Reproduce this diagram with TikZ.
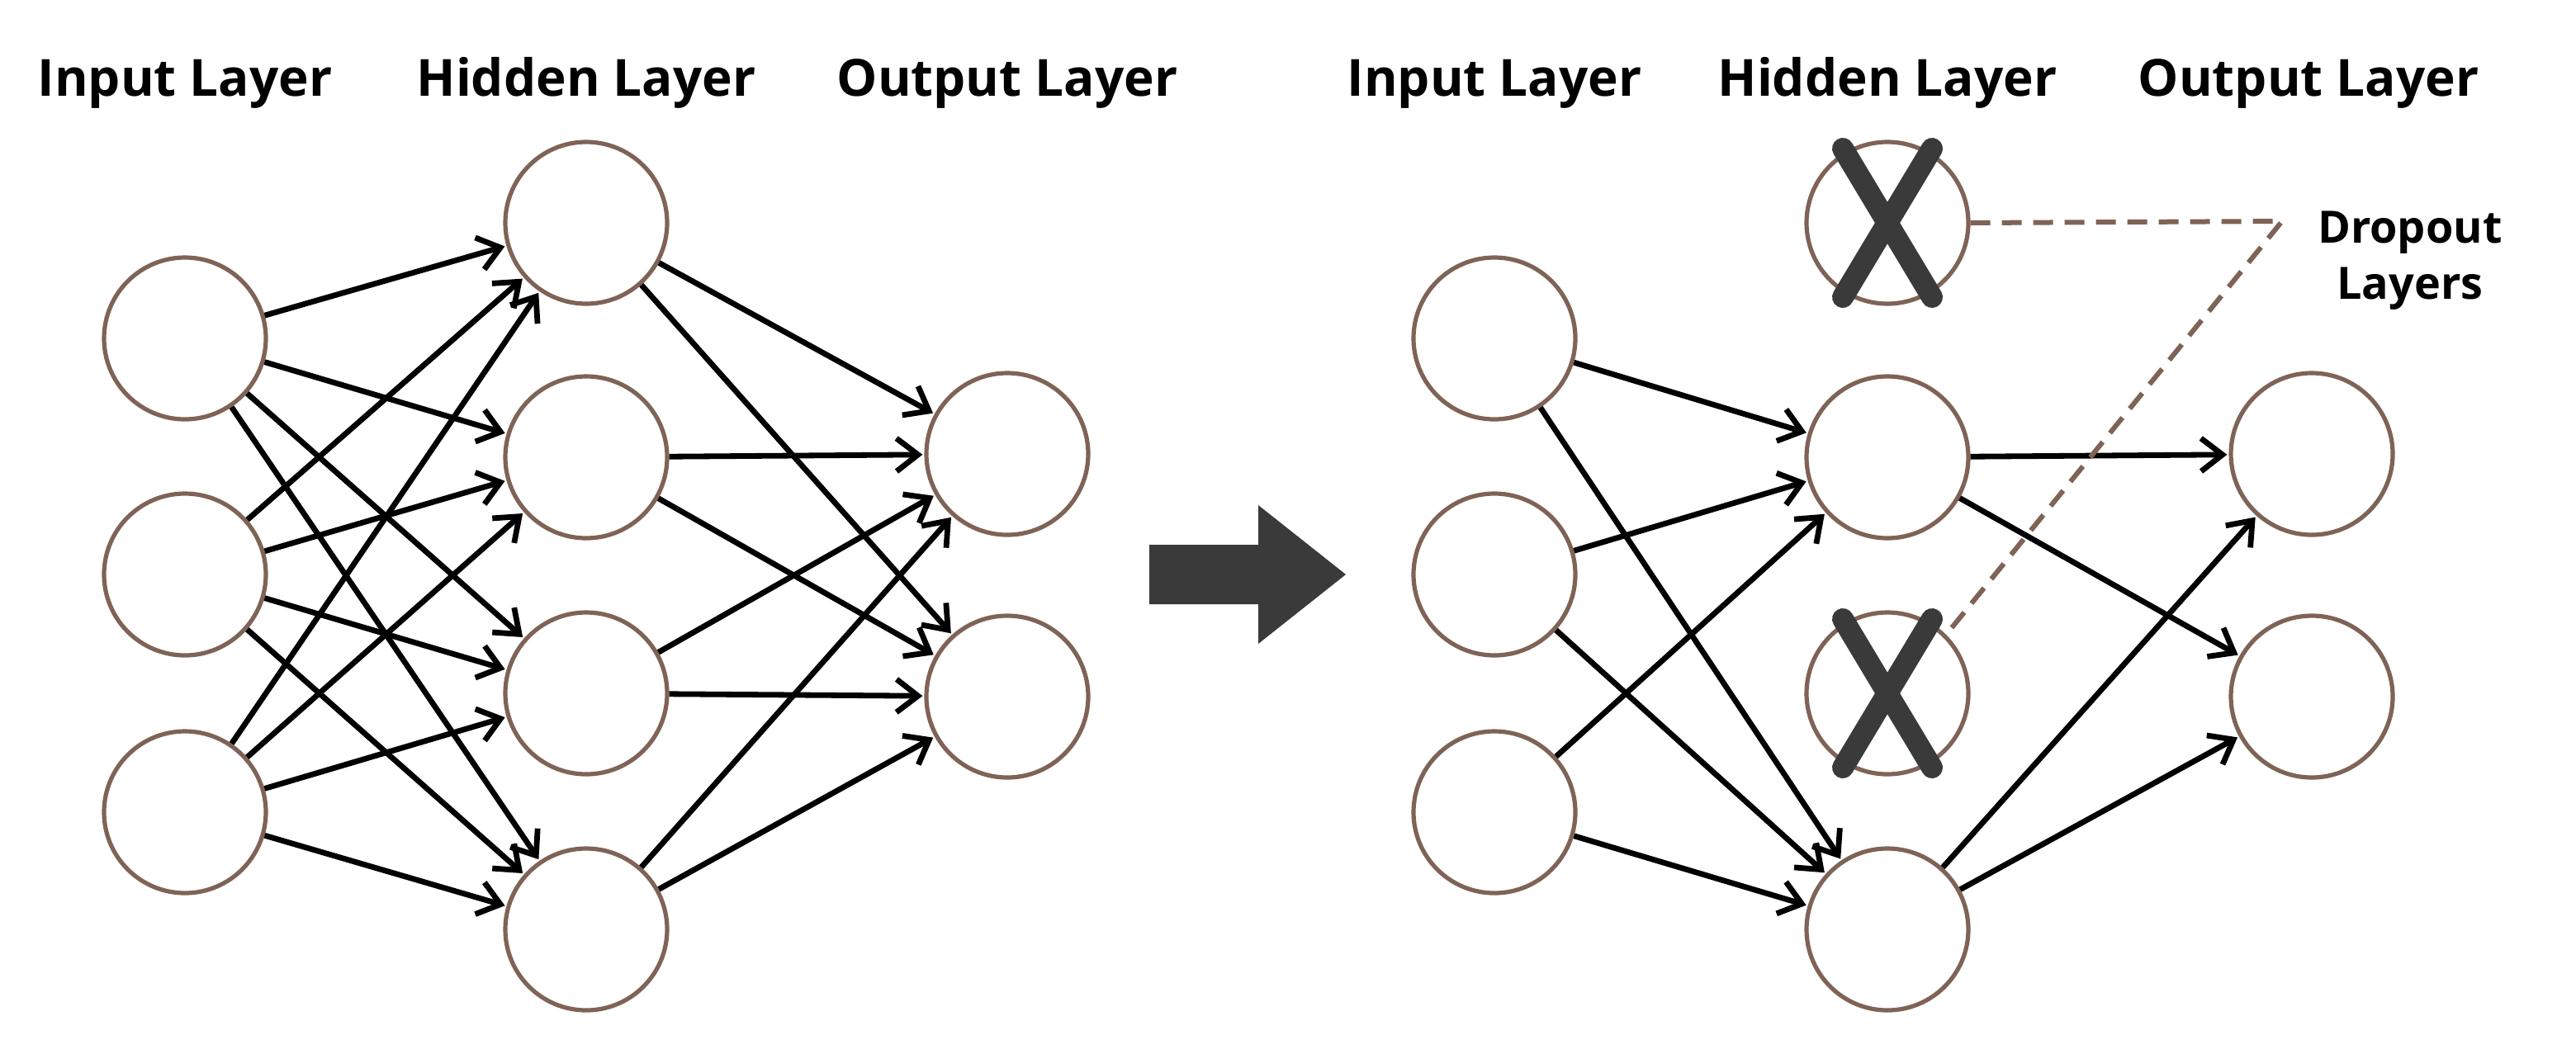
\documentclass[tikz,border=0pt]{standalone}
\usepackage{fontspec}
\setmainfont{Open Sans}
\usetikzlibrary{arrows.meta}
\definecolor{nb}{HTML}{7E6356}
\definecolor{xg}{HTML}{3A3A3A}
\begin{document}
\begin{tikzpicture}[x=1pt,y=-1pt,
  neuron/.style={circle,draw=nb,line width=2.6pt,minimum size=98pt,inner sep=0pt},
  lbl/.style={font=\bfseries\fontsize{31}{36}\selectfont,anchor=base},
  conn/.style={line width=3.4pt,-{Straight Barb[length=13pt,width=20pt,line width=3.4pt]},shorten >=1pt},
  xmark/.style={line width=13pt,line cap=round,draw=xg},
  dropdash/.style={draw=nb,line width=3pt,dash pattern=on 12pt off 7pt}]
\useasboundingbox (0,0) rectangle (1560,638);
% labels
\node[lbl] (l1) at (112,58) {Input Layer};
\node[lbl] (l2) at (355,58) {Hidden Layer};
\node[lbl] (l3) at (610,58) {Output Layer};
\node[lbl] (r1) at (905,58) {Input Layer};
\node[lbl] (r2) at (1143,58) {Hidden Layer};
\node[lbl] (r3) at (1398,58) {Output Layer};
% left network
\foreach \i/\y in {1/205,2/348,3/492} \node[neuron] (a\i) at (112,\y) {};
\foreach \i/\y in {1/135,2/277,3/420,4/563} \node[neuron] (b\i) at (355,\y) {};
\foreach \i/\y in {1/275,2/422} \node[neuron] (c\i) at (610,\y) {};
\foreach \i in {1,2,3} \foreach \j in {1,2,3,4} \draw[conn] (a\i) -- (b\j);
\foreach \j in {1,2,3,4} \foreach \k in {1,2} \draw[conn] (b\j) -- (c\k);
% big arrow
\fill[xg] (696,330) -- (762,330) -- (762,306) -- (815,348) -- (762,390) -- (762,366) -- (696,366) -- cycle;
% right network
\foreach \i/\y in {1/205,2/348,3/492} \node[neuron] (d\i) at (905,\y) {};
\foreach \i/\y in {1/135,2/277,3/420,4/563} \node[neuron] (e\i) at (1143,\y) {};
\foreach \i/\y in {1/275,2/422} \node[neuron] (f\i) at (1400,\y) {};
\foreach \i in {1,2,3} \foreach \j in {2,4} \draw[conn] (d\i) -- (e\j);
\foreach \j in {2,4} \foreach \k in {1,2} \draw[conn] (e\j) -- (f\k);
\foreach \n in {e1,e3} {
  \draw[xmark] ([shift={(-27,-45)}]\n.center) -- ([shift={(27,45)}]\n.center);
  \draw[xmark] ([shift={(27,-45)}]\n.center) -- ([shift={(-27,45)}]\n.center);
}
\coordinate (dj) at (1382,134);
\draw[dropdash] (e1.east) -- (dj) -- (e3.north east);
\node[font=\bfseries\fontsize{27}{34}\selectfont,align=center,anchor=west] (dl) at (1400,158) {Dropout\\Layers};
\end{tikzpicture}
\end{document}
